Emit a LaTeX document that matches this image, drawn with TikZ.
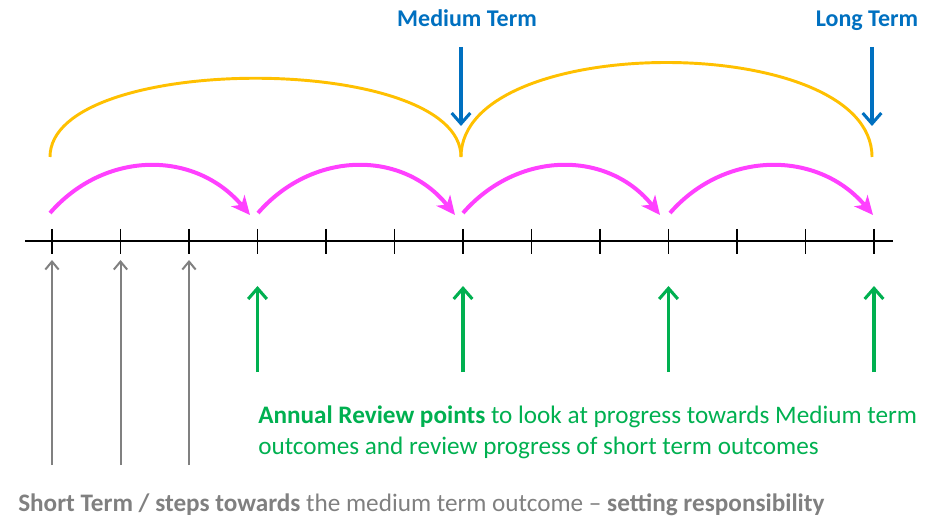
\documentclass[tikz,border=0pt]{standalone}
\usepackage{fontspec}
\setmainfont{Carlito}
\usepackage{xcolor}
\usepackage{tikz}
\usetikzlibrary{arrows.meta,calc}
\definecolor{termblue}{HTML}{0070C0}
\definecolor{reviewgreen}{HTML}{00B050}
\definecolor{archgold}{HTML}{FFC000}
\definecolor{hopmagenta}{HTML}{FF40FF}
\definecolor{stepgray}{HTML}{808080}

\begin{document}
\begin{tikzpicture}[x=0.75pt,y=-0.75pt,
    hop/.style={draw=hopmagenta,line width=3pt,-{Stealth[length=14pt,width=13pt,inset=4pt]}},
    arch/.style={draw=archgold,line width=2.2pt},
    review/.style={draw=reviewgreen,line width=2.3pt,-{Straight Barb[length=8pt,width=14pt]}},
    shortstep/.style={draw=stepgray,line width=1.5pt,-{Straight Barb[length=6pt,width=10pt]}},
    termarrow/.style={draw=termblue,line width=2.3pt,-{Straight Barb[length=8pt,width=14pt]}}]
      \useasboundingbox (0,0) rectangle (945,516);
      % timeline and ticks
      \draw[line width=1.9pt] (25,241) -- (893,241);
      \foreach \i in {0,...,12}{
        \coordinate (t\i) at ({52+68.5*\i},241);
        \draw[line width=1.3pt] ({52+68.5*\i},229) -- ({52+68.5*\i},254);
      }
      % short term steps
      \foreach \i in {0,1,2}{
        \coordinate (s\i) at ($(t\i)+(0,224)$);
        \draw[shortstep] (s\i) -- ($(t\i)+(0,19)$);
      }
      % annual review points
      \foreach \i in {3,6,9,12}{
        \coordinate (r\i) at ($(t\i)+(0,131)$);
        \draw[review] (r\i) -- ($(t\i)+(0,45)$);
      }
      % yearly hops
      \draw[hop] (50,213) .. controls (105,150) and (195,150) .. (250,215);
      \draw[hop] (258,213) .. controls (313,150) and (403,150) .. (455,215);
      \draw[hop] (463,213) .. controls (518,150) and (608,150) .. (660,215);
      \draw[hop] (670,213) .. controls (725,150) and (818,150) .. (873,215);
      % medium and long term arches
      \coordinate (a0) at (50,157);
      \coordinate (a1) at (461,157);
      \coordinate (a2) at (872,157);
      \draw[arch] (a0) .. controls (50,52) and (461,52) .. (a1);
      \draw[arch] (a1) .. controls (461,31) and (872,31) .. (a2);
      \node[font=\fontsize{18pt}{20pt}\selectfont\bfseries,termblue,anchor=base] (mid) at (467,27) {Medium Term};
      \node[font=\fontsize{18pt}{20pt}\selectfont\bfseries,termblue,anchor=base] (long) at (867,27) {Long Term};
      \draw[termarrow] (461,47) -- (461,126);
      \draw[termarrow] (872,47) -- (872,126);
      % captions
      \node[font=\fontsize{18.9pt}{23.25pt}\selectfont,reviewgreen,anchor=base west,inner sep=0pt] (note) at (258,423)
        {\textbf{Annual Review points} to look at progress towards Medium term};
      \node[font=\fontsize{18.9pt}{23.25pt}\selectfont,reviewgreen,anchor=base west,inner sep=0pt] (note2) at (258,454)
        {outcomes and review progress of short term outcomes};
      \node[font=\fontsize{18.9pt}{20pt}\selectfont,stepgray,anchor=base west,inner sep=0pt] (steps) at (18,511)
        {\textbf{Short Term / steps towards} the medium term outcome -- \textbf{setting responsibility}};
    \end{tikzpicture}
\end{document}
